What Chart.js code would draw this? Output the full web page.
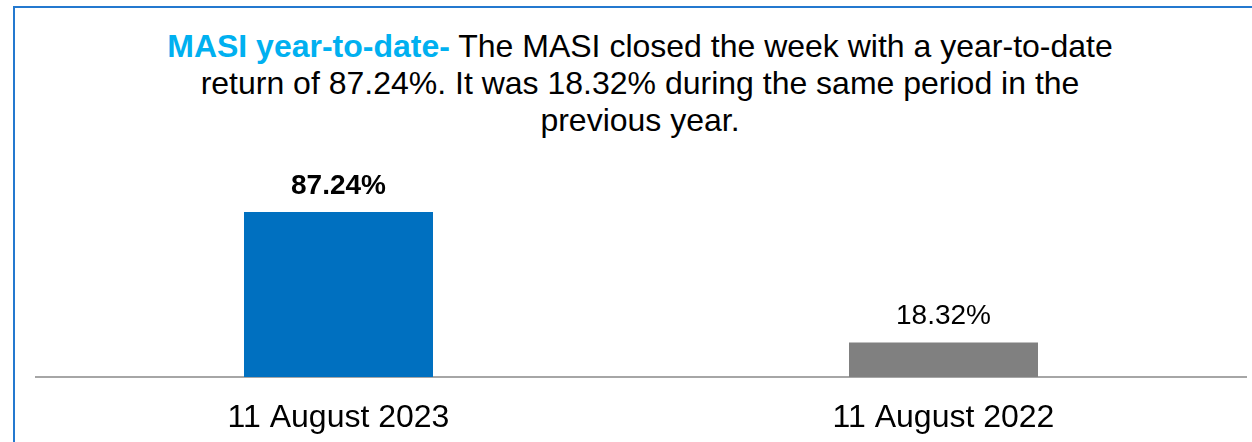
<!DOCTYPE html>
<html>
<head>
<meta charset="utf-8">
<script src="https://cdn.jsdelivr.net/npm/chart.js@4"></script>
<style>
  html, body { margin: 0; padding: 0; background: #fff; }
  body { width: 1252px; height: 442px; overflow: hidden; position: relative; font-family: "Liberation Sans", Arial, sans-serif; }
  #frame { position: absolute; left: 13px; top: 6px; width: 1400px; height: 600px; border-left: 2px solid #2479cf; border-top: 2px solid #2479cf; }
  #title { position: absolute; left: 0; top: 28px; width: 1280px; text-align: center; font-size: 32px; line-height: 37px; color: #000; }
  #title b { color: #00b0f0; }
  #chart { position: absolute; left: 0; top: 0; }
</style>
</head>
<body>
<div id="frame"></div>
<div id="title"><b>MASI year-to-date-</b> The MASI closed the week with a year-to-date<br>return of 87.24%. It was 18.32% during the same period in the<br>previous year.</div>
<canvas id="chart" width="1252" height="442"></canvas>
<script>
// Chart data
const categories = ["11 August 2023", "11 August 2022"];
const returns = [87.24, 18.32];
const valueLabels = ["87.24%", "18.32%"];

const barColors = ["#0070c0", "#808080"];
const labelWeights = ["bold", "normal"];

// draws the value above each bar
const barLabels = {
  id: "barLabels",
  afterDatasetsDraw(chart) {
    const ctx = chart.ctx;
    const meta = chart.getDatasetMeta(0);
    ctx.save();
    ctx.fillStyle = "#000";
    ctx.textAlign = "center";
    ctx.textBaseline = "alphabetic";
    meta.data.forEach((bar, i) => {
      ctx.font = labelWeights[i] + ' 28px "Liberation Sans", Arial, sans-serif';
      ctx.fillText(valueLabels[i], bar.x, bar.y - 18);
    });
    ctx.restore();
  },
};

new Chart(document.getElementById("chart"), {
  type: "bar",
  data: {
    labels: categories,
    datasets: [
      {
        data: returns,
        backgroundColor: barColors,
        borderWidth: 0,
        barPercentage: 0.3124,
        categoryPercentage: 1,
      },
    ],
  },
  options: {
    responsive: false,
    animation: false,
    layout: { padding: { left: 36, right: 6, top: 188, bottom: 0 } },
    plugins: { legend: { display: false }, tooltip: { enabled: false } },
    scales: {
      x: {
        grid: { display: false, drawTicks: false },
        border: { color: "#a6a6a6", width: 2 },
        ticks: {
          color: "#000",
          padding: 22,
          font: { family: '"Liberation Sans", Arial, sans-serif', size: 32 },
        },
        afterFit(scale) {
          scale.height = 65;
        },
      },
      y: {
        display: false,
        min: 0,
        max: 100,
      },
    },
  },
  plugins: [barLabels],
});
</script>
</body>
</html>
